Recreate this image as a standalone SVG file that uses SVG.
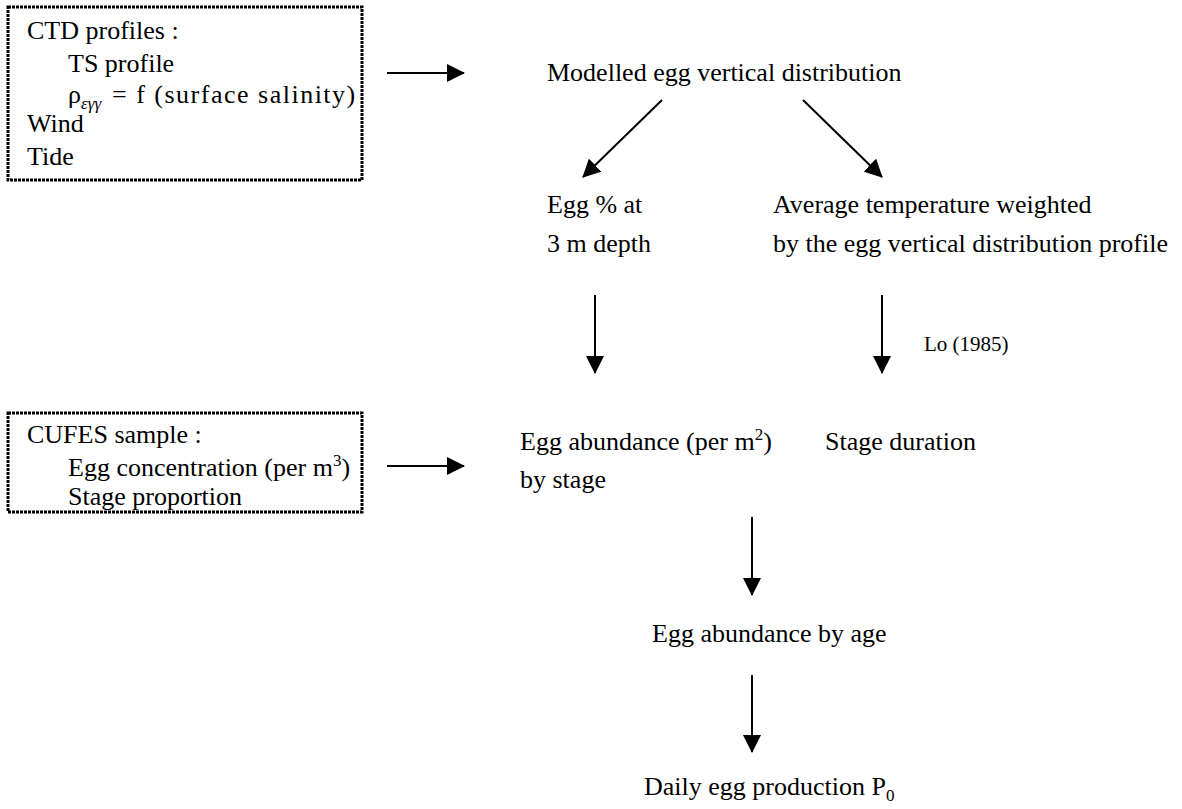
<svg xmlns="http://www.w3.org/2000/svg" width="1182" height="809" viewBox="0 0 1182 809">
<style>
text{font-family:"Liberation Serif","Times New Roman",serif;font-size:26px;fill:#000}
.small{font-size:21px}
.sub{font-size:17px}
.it{font-style:italic}
.sp{letter-spacing:1.5px}
.box{fill:none;stroke:#000;stroke-width:3;stroke-dasharray:3 1}
.conn{stroke:#000;stroke-width:2;fill:none;marker-end:url(#ah)}
</style>
<defs>
<marker id="ah" viewBox="0 0 18 18" refX="17" refY="9" markerWidth="18" markerHeight="18" markerUnits="userSpaceOnUse" orient="auto">
<path d="M0,0 L18,9 L0,18 Z" fill="#000"/>
</marker>
</defs>
<g id="ctd">
<rect class="box" x="8" y="7" width="354" height="173"/>
<text x="27" y="39">CTD profiles :</text>
<text x="68" y="72">TS profile</text>
<text x="68" y="103">ρ<tspan class="sub it" dy="6">εγγ</tspan><tspan class="sp" x="112" dy="-6">= f (surface salinity)</tspan></text>
<text x="27" y="132">Wind</text>
<text x="27" y="165">Tide</text>
</g>
<g id="cufes">
<rect class="box" x="8" y="413" width="354" height="99"/>
<text x="27" y="443">CUFES sample :</text>
<text x="68" y="476">Egg concentration (per m<tspan class="sub" dy="-10">3</tspan><tspan dy="10">)</tspan></text>
<text x="68" y="505">Stage proportion</text>
</g>
<g id="modelled"><text x="547" y="81">Modelled egg vertical distribution</text></g>
<g id="eggpct"><text x="547" y="213">Egg % at</text><text x="547" y="252">3 m depth</text></g>
<g id="avgtemp"><text x="773" y="213">Average temperature weighted</text><text x="773" y="252">by the egg vertical distribution profile</text></g>
<g id="lo"><text class="small" x="924" y="351">Lo (1985)</text></g>
<g id="abundstage"><text x="520" y="450">Egg abundance (per m<tspan class="sub" dy="-10">2</tspan><tspan dy="10">)</tspan></text><text x="520" y="488">by stage</text></g>
<g id="stagedur"><text x="825" y="450">Stage duration</text></g>
<g id="abundage"><text x="652" y="642">Egg abundance by age</text></g>
<g id="daily"><text x="644" y="795">Daily egg production P<tspan class="sub" dy="6">0</tspan></text></g>
<g id="connectors">
<line class="conn" x1="387" y1="73" x2="464" y2="73"/>
<line class="conn" x1="662" y1="100" x2="583" y2="177"/>
<line class="conn" x1="803" y1="100" x2="882" y2="177"/>
<line class="conn" x1="595" y1="295" x2="595" y2="373"/>
<line class="conn" x1="882" y1="295" x2="882" y2="373"/>
<line class="conn" x1="387" y1="466" x2="464" y2="466"/>
<line class="conn" x1="752" y1="517" x2="752" y2="595"/>
<line class="conn" x1="752" y1="675" x2="752" y2="752"/>
</g>
</svg>
